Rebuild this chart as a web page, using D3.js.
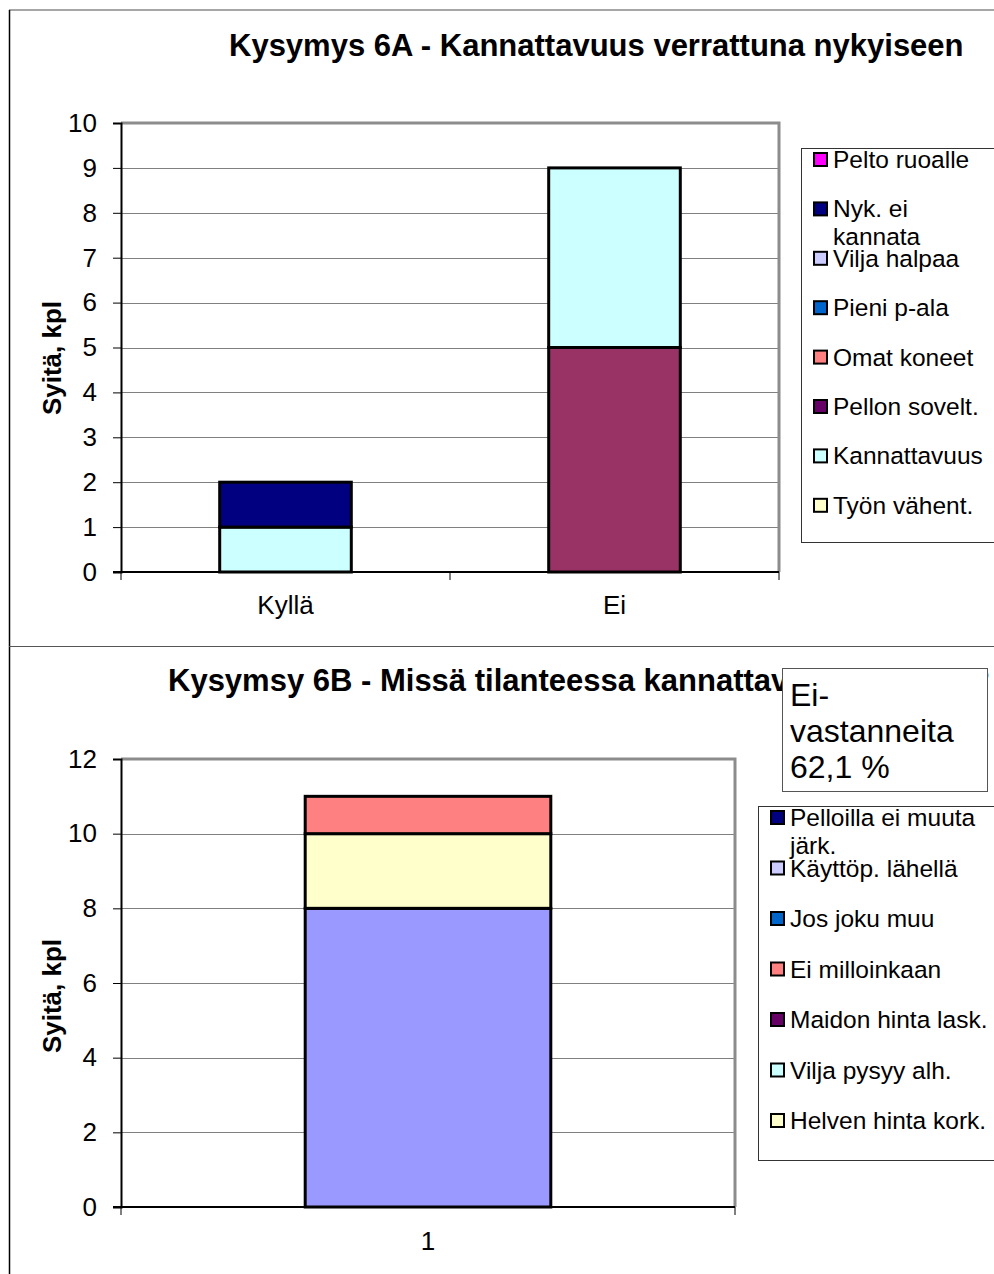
<!DOCTYPE html>
<html>
<head>
<meta charset="utf-8">
<script src="https://cdn.jsdelivr.net/npm/d3@7"></script>
<style>
html,body{margin:0;padding:0;background:#fff;}
svg{display:block;font-family:"Liberation Sans",Arial,sans-serif;}
</style>
</head>
<body>
<svg id="chart" width="994" height="1274"></svg>
<script>
// ---------- Chart A data ----------
const titleA = "Kysymys 6A - Kannattavuus verrattuna nykyiseen";
const categoriesA = ["Kyllä", "Ei"];
const legendA = ["Pelto ruoalle", "Nyk. ei kannata", "Vilja halpaa", "Pieni p-ala", "Omat koneet", "Pellon sovelt.", "Kannattavuus", "Työn vähent."];
const legendLinesA = [["Pelto ruoalle"], ["Nyk. ei", "kannata"], ["Vilja halpaa"], ["Pieni p-ala"], ["Omat koneet"], ["Pellon sovelt."], ["Kannattavuus"], ["Työn vähent."]];
const swatchColorsA = ["#FF00FF", "#000080", "#CCCCFF", "#0066CC", "#FF8080", "#660066", "#CCFFFF", "#FFFFCC"];
const barColorsA = ["#FF00FF", "#000080", "#CCCCFF", "#0066CC", "#FF8080", "#993366", "#CCFFFF", "#FFFFCC"];
// values per series: [Kyllä, Ei]
const pelto_ruoalle = [0, 0];
const nyk_ei_kannata = [1, 0];
const vilja_halpaa = [0, 0];
const pieni_p_ala = [0, 0];
const omat_koneet = [0, 0];
const pellon_sovelt = [0, 5];
const kannattavuus = [1, 4];
const tyon_vahent = [0, 0];
const valuesA = [pelto_ruoalle, nyk_ei_kannata, vilja_halpaa, pieni_p_ala, omat_koneet, pellon_sovelt, kannattavuus, tyon_vahent];
const stackOrderA = ["Työn vähent.", "Pellon sovelt.", "Kannattavuus", "Omat koneet", "Pieni p-ala", "Vilja halpaa", "Nyk. ei kannata", "Pelto ruoalle"];
const ticksA = [0, 1, 2, 3, 4, 5, 6, 7, 8, 9, 10];

// ---------- Chart B data ----------
const titleB = "Kysymsy 6B - Missä tilanteessa kannattavuus paranee?";
const categoriesB = ["1"];
const legendB = ["Pelloilla ei muuta järk.", "Käyttöp. lähellä", "Jos joku muu", "Ei milloinkaan", "Maidon hinta lask.", "Vilja pysyy alh.", "Helven hinta kork."];
const legendLinesB = [["Pelloilla ei muuta", "järk."], ["Käyttöp. lähellä"], ["Jos joku muu"], ["Ei milloinkaan"], ["Maidon hinta lask."], ["Vilja pysyy alh."], ["Helven hinta kork."]];
const swatchColorsB = ["#000080", "#CCCCFF", "#0066CC", "#FF8080", "#660066", "#CCFFFF", "#FFFFCC"];
const barColorsB = ["#000080", "#9999FF", "#0066CC", "#FF8080", "#660066", "#CCFFFF", "#FFFFCC"];
const pelloilla = [0];
const kayttop_lahella = [8];
const jos_joku_muu = [0];
const ei_milloinkaan = [1];
const maidon_hinta = [0];
const vilja_pysyy = [0];
const helven_hinta = [2];
const valuesB = [pelloilla, kayttop_lahella, jos_joku_muu, ei_milloinkaan, maidon_hinta, vilja_pysyy, helven_hinta];
const stackOrderB = ["Käyttöp. lähellä", "Helven hinta kork.", "Vilja pysyy alh.", "Maidon hinta lask.", "Ei milloinkaan", "Jos joku muu", "Pelloilla ei muuta järk."];
const ticksB = [0, 2, 4, 6, 8, 10, 12];
const noteLines = ["Ei-", "vastanneita", "62,1 %"];
const yTitle = "Syitä, kpl";

const svg = d3.select("#chart");

// outer frame
svg.append("line").attr("x1", 9).attr("x2", 994).attr("y1", 10).attr("y2", 10).attr("stroke", "#a6a6a6").attr("stroke-width", 2);
svg.append("line").attr("x1", 9.5).attr("x2", 9.5).attr("y1", 10).attr("y2", 1274).attr("stroke", "#000").attr("stroke-width", 1.5);
svg.append("line").attr("x1", 9).attr("x2", 994).attr("y1", 646.5).attr("y2", 646.5).attr("stroke", "#555").attr("stroke-width", 1.2);

function drawChart(cfg) {
  const g = svg.append("g");
  const x = d3.scaleBand().domain(cfg.categories).range([cfg.left, cfg.right]).paddingInner(0).paddingOuter(0);
  const y = d3.scaleLinear().domain([0, cfg.ymax]).range([cfg.bottom, cfg.top]);
  const barW = x.bandwidth() * 0.4;

  // gridlines
  g.append("g").selectAll("line").data(cfg.ticks.filter(t => t > 0)).join("line")
    .attr("x1", cfg.left).attr("x2", cfg.right)
    .attr("y1", d => Math.round(y(d)) + 0.5).attr("y2", d => Math.round(y(d)) + 0.5)
    .attr("stroke", "#808080").attr("stroke-width", 1);

  // plot border top & right (gray)
  g.append("path")
    .attr("d", `M${cfg.left},${y(cfg.ymax)}H${cfg.right}V${cfg.bottom}`)
    .attr("fill", "none").attr("stroke", "#8c8c8c").attr("stroke-width", 3);

  // y axis
  const yAxis = d3.axisLeft(y).tickValues(cfg.ticks).tickSize(8).tickPadding(16).tickFormat(d3.format("d"));
  const ya = g.append("g").attr("transform", `translate(${cfg.left},0)`).call(yAxis);
  ya.select(".domain").attr("stroke", "#000").attr("stroke-width", 2);
  ya.selectAll(".tick line").attr("stroke", "#000").attr("stroke-width", 1);
  ya.selectAll(".tick text").attr("font-size", 26).attr("fill", "#000").attr("font-family", "Liberation Sans, Arial, sans-serif");

  // bars
  const rows = cfg.categories.map((c, i) => {
    const o = { cat: c };
    cfg.series.forEach((s, k) => o[s] = cfg.values[k][i]);
    return o;
  });
  const stacked = d3.stack().keys(cfg.stackOrder)(rows);
  stacked.forEach(layer => {
    const color = cfg.barColors[cfg.series.indexOf(layer.key)];
    g.append("g").selectAll("rect").data(layer.filter(d => d[1] - d[0] > 0)).join("rect")
      .attr("x", d => x(d.data.cat) + (x.bandwidth() - barW) / 2)
      .attr("width", barW)
      .attr("y", d => y(d[1]))
      .attr("height", d => y(d[0]) - y(d[1]))
      .attr("fill", color).attr("stroke", "#000").attr("stroke-width", 3);
  });

  // x axis
  const xa = g.append("g").attr("transform", `translate(0,${cfg.bottom})`);
  xa.append("line").attr("x1", cfg.left - 8).attr("x2", cfg.right).attr("y1", 0).attr("y2", 0).attr("stroke", "#000").attr("stroke-width", 2);
  const bounds = [cfg.left].concat(cfg.categories.map(c => x(c) + x.bandwidth()));
  xa.selectAll("line.tk").data(bounds).join("line").attr("class", "tk")
    .attr("x1", d => d).attr("x2", d => d).attr("y1", 0).attr("y2", 8).attr("stroke", "#000").attr("stroke-width", 1);
  xa.selectAll("text").data(cfg.categories).join("text")
    .attr("x", d => x(d) + x.bandwidth() / 2).attr("y", cfg.xLabelY - cfg.bottom)
    .attr("text-anchor", "middle").attr("font-size", 26).attr("fill", "#000").text(d => d);

  // y title
  g.append("text").attr("transform", `translate(${cfg.yTitleX},${cfg.yTitleY}) rotate(-90)`)
    .attr("text-anchor", "middle").attr("font-size", 26).attr("font-weight", "bold").attr("fill", "#000").text(yTitle);

  // title
  g.append("text").attr("x", cfg.titleX).attr("y", cfg.titleY).attr("font-size", 31).attr("font-weight", "bold").attr("fill", "#000").text(cfg.title);

  // legend
  const lg = g.append("g");
  lg.append("rect").attr("x", cfg.legX + 0.5).attr("y", cfg.legTop + 0.5).attr("width", 1100 - cfg.legX).attr("height", cfg.legBottom - cfg.legTop)
    .attr("fill", "#fff").attr("stroke", "#333").attr("stroke-width", 1);
  cfg.legendLines.forEach((lines, i) => {
    const cy = cfg.legFirst + i * cfg.legStep;
    lg.append("rect").attr("x", cfg.legX + 13).attr("y", cy - 6).attr("width", 13).attr("height", 13)
      .attr("fill", cfg.swatchColors[i]).attr("stroke", "#000").attr("stroke-width", 2);
    lines.forEach((ln, j) => {
      lg.append("text").attr("x", cfg.legX + 32).attr("y", cy + 9 + j * 28).attr("font-size", 24.5).attr("fill", "#000").text(ln);
    });
  });
}

drawChart({
  categories: categoriesA, series: legendA, values: valuesA, stackOrder: stackOrderA,
  barColors: barColorsA, swatchColors: swatchColorsA, legendLines: legendLinesA,
  ticks: ticksA, ymax: 10, left: 121, right: 779, top: 123, bottom: 572,
  xLabelY: 614, yTitleX: 61, yTitleY: 358, title: titleA, titleX: 229, titleY: 56,
  legX: 801, legTop: 148, legBottom: 542, legFirst: 159, legStep: 49.4
});

drawChart({
  categories: categoriesB, series: legendB, values: valuesB, stackOrder: stackOrderB,
  barColors: barColorsB, swatchColors: swatchColorsB, legendLines: legendLinesB,
  ticks: ticksB, ymax: 12, left: 121, right: 735, top: 759, bottom: 1207,
  xLabelY: 1250, yTitleX: 61, yTitleY: 996, title: titleB, titleX: 168, titleY: 691,
  legX: 758, legTop: 806, legBottom: 1160, legFirst: 817, legStep: 50.5
});

// note box
const nb = svg.append("g");
nb.append("rect").attr("x", 782.5).attr("y", 668.5).attr("width", 205).attr("height", 123)
  .attr("fill", "#fff").attr("stroke", "#555").attr("stroke-width", 1);
nb.selectAll("text").data(noteLines).join("text")
  .attr("x", 790).attr("y", (d, i) => 706 + i * 36).attr("font-size", 32).attr("fill", "#000").text(d => d);
</script>
</body>
</html>
